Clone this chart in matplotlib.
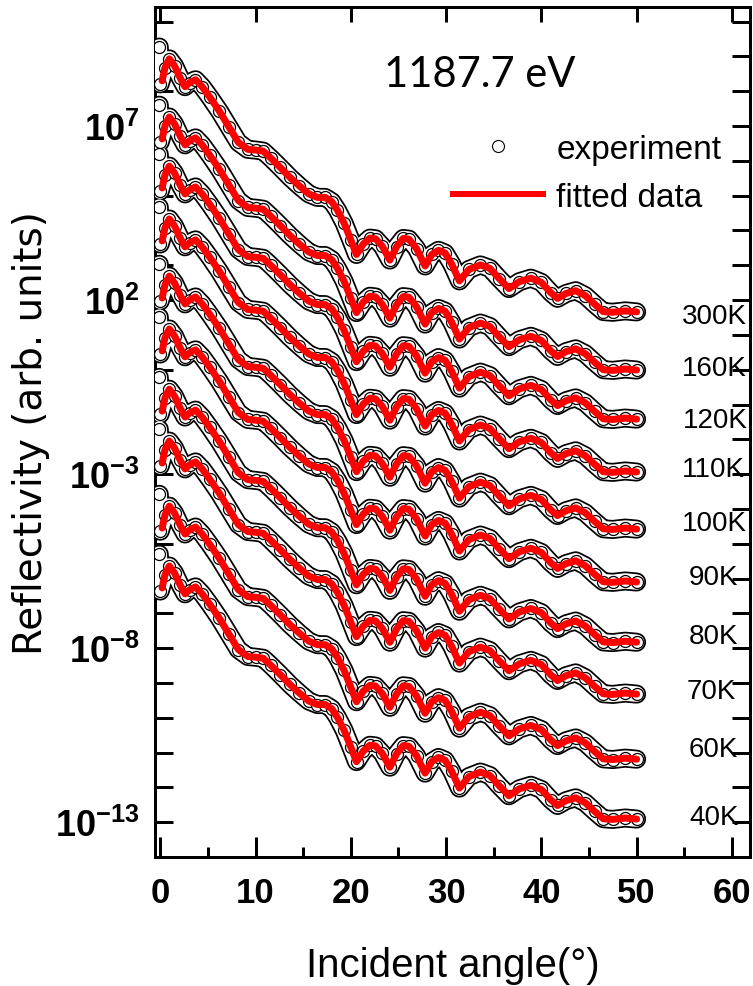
import matplotlib
matplotlib.use('Agg')
import matplotlib.pyplot as plt
import numpy as np
from matplotlib.lines import Line2D
from matplotlib.ticker import FixedLocator, FixedFormatter, NullFormatter, MultipleLocator

# incident angle (deg) of the read points of the fitted curves
angle = [0.2, 0.5, 0.95, 1.5, 2.1, 2.6, 3.1, 3.7, 4.4, 5.2, 6.2, 7.2, 8.2, 9.2, 10.0,
         10.8, 11.6, 12.6, 13.6, 14.6, 15.6, 16.5, 17.3, 18.0, 18.6, 19.3, 20.0, 20.6,
         21.3, 22.0, 22.6, 23.3, 24.1, 24.8, 25.5, 26.1, 26.9, 27.8, 28.5, 29.2, 29.9,
         30.6, 31.4, 32.4, 33.6, 34.6, 35.6, 36.6, 37.7, 38.9, 40.0, 41.0, 41.7, 42.6,
         43.6, 44.6, 45.6, 46.5, 47.5, 48.8, 50.0]
# log10(R) relative to the first maximum (all temperatures alike)
fit_shape = [-0.63, -0.25, 0.0, -0.20, -0.55, -0.80, -0.68, -0.60, -0.80, -1.10, -1.50,
             -1.95, -2.40, -2.60, -2.62, -2.65, -2.85, -3.12, -3.40, -3.65, -3.88, -3.98,
             -3.98, -4.10, -4.35, -4.72, -5.20, -5.62, -5.32, -5.15, -5.17, -5.38, -5.78,
             -5.40, -5.16, -5.18, -5.45, -5.95, -5.62, -5.50, -5.58, -5.90, -6.38, -6.05,
             -5.92, -6.02, -6.32, -6.60, -6.40, -6.30, -6.42, -6.72, -6.88, -6.74, -6.66,
             -6.80, -7.05, -7.26, -7.28, -7.24, -7.27]
# experiment: two extra low-angle points, then it follows the fit
exp_angle = [-0.1, 0.0] + angle[1:]
exp_shape = [0.34, -0.72] + fit_shape[1:]

temps = ['300K', '160K', '120K', '110K', '100K', '90K', '80K', '70K', '60K', '40K']
# log10 of the first maximum of each (offset) curve
peak_log = [8.93, 7.26, 5.85, 4.33, 2.69, 1.17, -0.56, -2.05, -3.92, -5.64]

ytick_vals = [1e-13, 1e-8, 1e-3, 1e2, 1e7]
ytick_labels = [r'$10^{-13}$', r'$10^{-8}$', r'$10^{-3}$', r'$10^{2}$', r'$10^{7}$']

plt.rcParams['font.family'] = ['Liberation Sans', 'DejaVu Sans']
plt.rcParams['mathtext.fontset'] = 'custom'
plt.rcParams['mathtext.rm'] = 'Liberation Sans:bold'
plt.rcParams['mathtext.it'] = 'Liberation Sans:bold'
plt.rcParams['mathtext.bf'] = 'Liberation Sans:bold'
plt.rcParams['mathtext.default'] = 'rm'

px = 0.72  # points per pixel at dpi 100

fig = plt.figure(figsize=(7.53, 9.87), dpi=100)
ax = fig.add_axes([155/753, 1 - 858/987, (750 - 155)/753, 850/987])

# curves: experiment drawn as a band of open circles, fit as a red line on top
for i, t in enumerate(temps):
    ye = 10 ** (peak_log[i] + np.array(exp_shape))
    yf = 10 ** (peak_log[i] + np.array(fit_shape))
    ax.plot(exp_angle, ye, color='black', lw=19*px, solid_capstyle='round',
            solid_joinstyle='round', zorder=2)
    ax.plot(exp_angle, ye, color='white', lw=15.5*px, solid_capstyle='round',
            solid_joinstyle='round', zorder=3)
    ax.plot(exp_angle, ye, 'o', ms=12*px, mfc='white', mec='black', mew=0.9, zorder=4)
    ax.plot(angle, yf, color='red', lw=7*px, solid_capstyle='round',
            solid_joinstyle='round', zorder=5)

# temperature labels (angle, log10 position)
label_pos = [(54.8, 1.54), (54.8, 0.05), (54.9, -1.45), (54.8, -2.86), (54.8, -4.41),
             (55.5, -5.96), (55.5, -7.66), (55.3, -9.24), (55.5, -10.90), (55.5, -12.86)]
for t, (lx, ly) in zip(temps, label_pos):
    ax.text(lx, 10 ** ly, t, fontsize=20, ha='left', va='center')

# axes
ax.set_yscale('log')
ax.set_xlim(-0.55, 61.9)
ax.set_ylim(1e-14, 10 ** 10.42)

ax.xaxis.set_major_locator(MultipleLocator(10))
ax.xaxis.set_minor_locator(MultipleLocator(5))
ax.yaxis.set_major_locator(FixedLocator(ytick_vals))
ax.yaxis.set_major_formatter(FixedFormatter(ytick_labels))
ax.yaxis.set_minor_locator(FixedLocator([10.0 ** k for k in range(-13, 11)]))
ax.yaxis.set_minor_formatter(NullFormatter())

ax.tick_params(axis='x', which='major', direction='in', length=20*px, width=3*px,
               top=False, pad=14, labelsize=25)
ax.tick_params(axis='x', which='minor', direction='in', length=10*px, width=3*px, top=False)
ax.tick_params(axis='y', which='both', direction='in', length=18*px, width=3*px,
               left=True, right=True, pad=11, labelsize=26)
for lab in ax.get_xticklabels():
    lab.set_fontweight('bold')

top = ax.secondary_xaxis('top')
top.set_xticks([0, 10, 20, 30, 40, 50, 60])
top.tick_params(direction='in', length=15*px, width=3*px, labeltop=False)
top.spines['top'].set_linewidth(3*px)

for s in ax.spines.values():
    s.set_linewidth(3*px)

ax.set_xlabel('Incident angle(°)', fontsize=29, labelpad=26)
ax.set_ylabel('Reflectivity (arb. units)', fontsize=28, family=['DejaVu Sans'])
ax.yaxis.set_label_coords(-0.1765, 0.5)

ax.text(0.545, 0.921, '1187.7 eV', transform=ax.transAxes, ha='center', va='center',
        fontsize=30, family=['Lato', 'DejaVu Sans'])

handles = [Line2D([], [], marker='o', ls='none', ms=12*px, mfc='white', mec='black', mew=0.8),
           Line2D([], [], color='red', lw=6*px)]
ax.legend(handles, ['experiment', 'fitted data'], loc='upper left',
          bbox_to_anchor=(0.5008, 0.851), frameon=False, borderpad=0, borderaxespad=0,
          handlelength=2.7, handletextpad=0.4, labelspacing=0.52,
          prop={'size': 24})

fig.savefig('out.png', dpi=100)
